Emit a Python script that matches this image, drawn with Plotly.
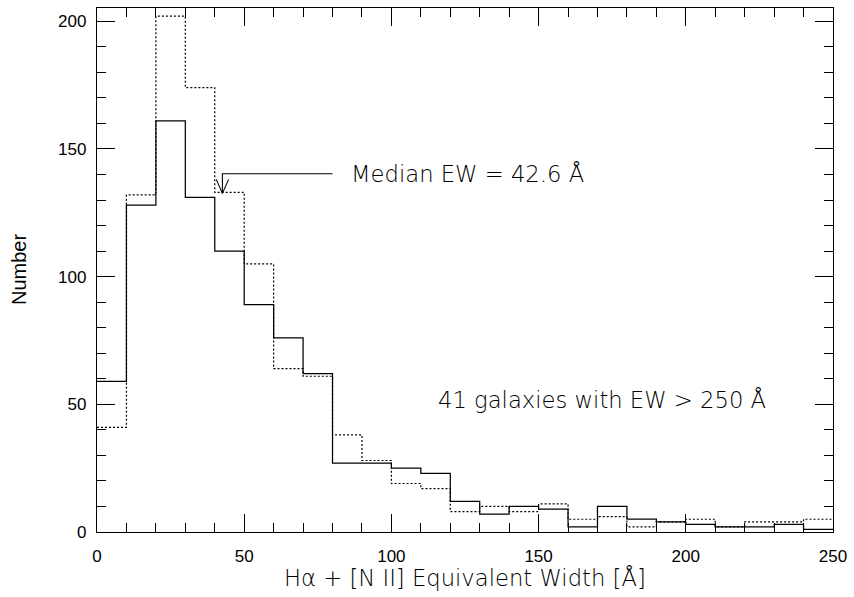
import plotly.graph_objects as go

# ---- data ----
bin_edges = [0, 10, 20, 30, 40, 50, 60, 70, 80, 90, 100, 110, 120, 130, 140,
             150, 160, 170, 180, 190, 200, 210, 220, 230, 240, 250]
solid_counts = [59, 128, 161, 131, 110, 89, 76, 62, 27, 27, 25, 23, 12, 7, 10,
                9, 2, 10, 5, 4, 3, 2, 2, 3, 1]
dotted_counts = [41, 132, 202, 174, 133, 105, 64, 61, 38, 28, 19, 17, 8, 10, 8,
                 11, 5, 6, 2, 4, 5, 2, 4, 4, 5]
median_ew = 42.6
median_label = "Median EW = 42.6 Å"
tail_label = "41 galaxies with EW > 250 Å"
x_ticks = [0, 50, 100, 150, 200, 250]
y_ticks = [0, 50, 100, 150, 200]

# annotation anchor values (data units)
arrow_tail_x = 80
arrow_level_y = 140.3
arrow_tip_y = 132.6
head_half_w = 2.1
head_base_y = 138.1
median_text_x = 85.7
tail_text_x = 115.3
tail_text_y = 51.5

fig = go.Figure()

fig.add_trace(go.Scatter(
    x=bin_edges, y=dotted_counts + [dotted_counts[-1]],
    mode="lines", line=dict(color="black", width=1.2, dash="2px,2px", shape="hv"),
    showlegend=False, hoverinfo="skip"))
fig.add_trace(go.Scatter(
    x=bin_edges, y=solid_counts + [solid_counts[-1]],
    mode="lines", line=dict(color="black", width=1.25, shape="hv"),
    showlegend=False, hoverinfo="skip"))

# bent arrow to the median
fig.add_trace(go.Scatter(
    x=[arrow_tail_x, median_ew, median_ew],
    y=[arrow_level_y, arrow_level_y, arrow_tip_y],
    mode="lines", line=dict(color="black", width=1.1),
    showlegend=False, hoverinfo="skip"))
fig.add_trace(go.Scatter(
    x=[median_ew - head_half_w, median_ew, median_ew + head_half_w],
    y=[head_base_y, arrow_tip_y, head_base_y],
    mode="lines", line=dict(color="black", width=1.1),
    showlegend=False, hoverinfo="skip"))

hfont = dict(family="DejaVu Sans", size=22.7, color="black", weight=200)

fig.add_annotation(x=median_text_x, y=arrow_level_y, text=median_label,
                   showarrow=False, xanchor="left", yanchor="middle", font=hfont)
fig.add_annotation(x=tail_text_x, y=tail_text_y, text=tail_label,
                   showarrow=False, xanchor="left", yanchor="middle", font=hfont)
fig.add_annotation(xref="paper", yref="paper", x=0.5, y=0, yshift=-46,
                   text="Hα + [N II] Equivalent Width [Å]", showarrow=False,
                   xanchor="center", yanchor="middle", font=hfont)
fig.add_annotation(xref="paper", yref="paper", x=0, y=0.5, xshift=-78,
                   text="Number", textangle=-90, showarrow=False,
                   xanchor="center", yanchor="middle",
                   font=dict(family="Liberation Sans", size=20, color="black"))

axis_common = dict(
    showgrid=False, zeroline=False, showline=True, linecolor="black",
    linewidth=1.3, mirror="ticks", ticks="inside", ticklen=18, tickwidth=1.1,
    tickcolor="black",
    tickfont=dict(family="Liberation Sans", size=17, color="black"),
)

fig.update_xaxes(range=[0, 250], tickvals=x_ticks,
                 minor=dict(dtick=10, ticks="inside", ticklen=9, tickwidth=1.1,
                            tickcolor="black", showgrid=False),
                 ticklabelstandoff=8, **axis_common)
fig.update_yaxes(range=[0, 205.2], tickvals=y_ticks,
                 minor=dict(dtick=10, ticks="inside", ticklen=9, tickwidth=1.1,
                            tickcolor="black", showgrid=False),
                 ticklabelstandoff=6, **axis_common)

fig.update_layout(
    width=854, height=597,
    margin=dict(l=97, r=16, t=7, b=65),
    plot_bgcolor="white", paper_bgcolor="white",
    showlegend=False,
)

fig.write_html("out.html")
